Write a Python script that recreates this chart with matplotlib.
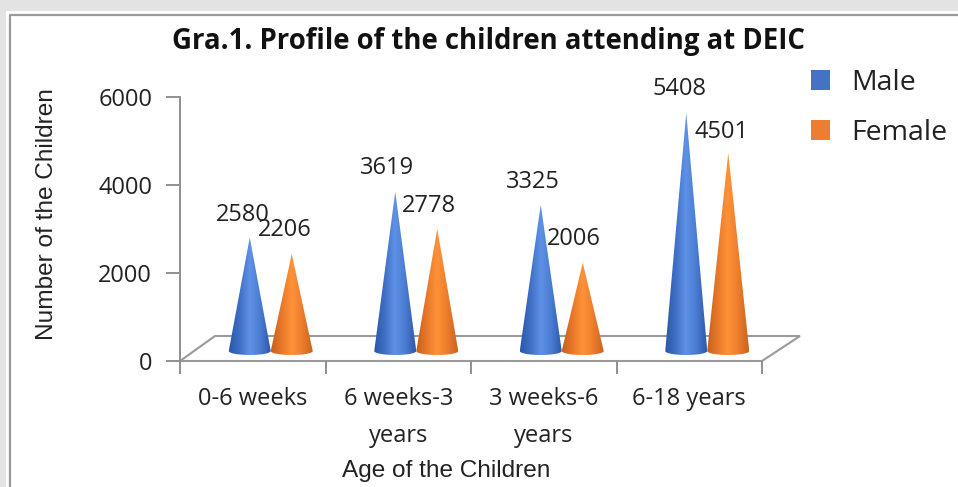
import numpy as np
import matplotlib
matplotlib.use("Agg")
import matplotlib.pyplot as plt
import matplotlib.transforms as mtrans
from matplotlib.patches import Polygon, Patch, Rectangle
from matplotlib.lines import Line2D
from matplotlib.colors import LinearSegmentedColormap

categories = ["0-6 weeks", "6 weeks-3\nyears", "3 weeks-6\nyears", "6-18 years"]
male = [2580, 3619, 3325, 5408]
female = [2206, 2778, 2006, 4501]
male_label_offsets = [(-7, 22), (-8, 24), (-8, 23), (-7, 24)]
female_label_offsets = [(-7, 24), (-8, 23), (-9, 24), (-7, 21)]
yticks = [0, 2000, 4000, 6000]

W, H = 958, 487
fig = plt.figure(figsize=(W / 100, H / 100), dpi=100, facecolor="#e3e3e3")

def fx(px): return px / W
def fy(py): return 1 - py / H

# panel + border
fig.add_artist(Rectangle((fx(6), 0), 1, fy(11), transform=fig.transFigure, fc="white", ec="none", zorder=-2))
fig.add_artist(Line2D([fx(10), fx(10), 1], [0, fy(15), fy(15)], transform=fig.transFigure,
                      color="#9a9a9a", lw=1.6, zorder=-1))

ax = fig.add_axes([fx(180), fy(361), (762 - 180) / W, (361 - 97) / H])
ax.patch.set_alpha(0)
ax.set_xlim(0, 4)
ax.set_ylim(0, 6000)
for s in ["top", "right", "bottom"]:
    ax.spines[s].set_visible(False)
ax.spines["left"].set_color("#8f8f8f")
ax.spines["left"].set_linewidth(1.4)

GREY = "#9a9a9a"
TF = "Open Sans"
LF = "Liberation Sans"

ax.set_yticks(yticks)
ax.set_yticklabels([str(v) for v in yticks], fontfamily=TF, fontsize=17, color="#222222")
ax.tick_params(axis="y", length=10, width=1.4, color="#8f8f8f", pad=10)

ax.set_xticks([0, 1, 2, 3, 4])
ax.set_xticklabels([])
ax.tick_params(axis="x", length=9, width=1.4, color="#8f8f8f")
ax.set_xticks([i + 0.5 for i in range(4)], minor=True)
ax.set_xticklabels(categories, minor=True, fontfamily=TF, fontsize=17, color="#222222",
                   linespacing=1.68)
ax.tick_params(axis="x", which="minor", length=0, pad=19)

# floor
px_x = 4 / (762 - 180)
px_y = 6000 / (361 - 97)
floor_x = [0, 35 * px_x, 4 + 38 * px_x, 4]
floor_y = [0, 25 * px_y, 25 * px_y, 0]
ax.add_patch(Polygon(np.column_stack([floor_x, floor_y]), closed=True, fc="none", ec=GREY,
                     lw=1.5, clip_on=False, zorder=1))

# cones
shift = mtrans.offset_copy(ax.transData, fig=fig, x=18, y=10, units="dots")
blue = LinearSegmentedColormap.from_list("b", ["#2a57a8", "#3e6fc4", "#5f92e6", "#4a7bd0", "#2c59aa"])
orange = LinearSegmentedColormap.from_list("o", ["#c45f1a", "#e8782a", "#ff9238", "#ec7c2c", "#c9641c"])
half = 21 * px_x
minor = 4 * px_y
grad = np.linspace(0, 1, 256).reshape(1, -1)
t = np.linspace(np.pi, 2 * np.pi, 40)

def cone(cx, v, cmap):
    xs = np.r_[cx + half * np.cos(t), cx]
    ys = np.r_[minor * np.sin(t), v]
    im = ax.imshow(grad, cmap=cmap, aspect="auto", extent=(cx - half, cx + half, -minor, v),
                   transform=shift, zorder=3, interpolation="bilinear")
    clip = Polygon(np.column_stack([xs, ys]), closed=True, transform=shift)
    im.set_clip_path(clip)

for i in range(4):
    c = i + 0.5
    cone(c - half, male[i], blue)
    cone(c + half, female[i], orange)
    for cx, v, off in [(c - half, male[i], male_label_offsets[i]),
                       (c + half, female[i], female_label_offsets[i])]:
        ax.annotate(str(v), xy=(cx, v), xycoords=shift, xytext=off, textcoords="offset pixels",
                    ha="center", va="center", fontfamily=TF, fontsize=17, color="#222222",
                    zorder=5, annotation_clip=False)
ax.set_xlim(0, 4)
ax.set_ylim(0, 6000)

fig.text(fx(489), fy(41), "Gra.1. Profile of the children attending at DEIC", ha="center", va="center",
         fontfamily=TF, fontweight="bold", fontsize=19.8, color="#111111")
fig.text(fx(446), fy(471), "Age of the Children", ha="center", va="center", fontfamily=LF,
         fontsize=17.6, color="#222222")
fig.text(fx(47), fy(214), "Number of the Children", rotation=90, ha="center", va="center",
         fontfamily=LF, fontsize=17.6, color="#222222")

handles = [Patch(fc="#4472c4", label="Male"), Patch(fc="#ed7d31", label="Female")]
fig.legend(handles=handles, loc="upper left", bbox_to_anchor=(fx(788), fy(46)), frameon=False,
           prop={"family": TF, "size": 20.5}, handlelength=0.69, handleheight=0.69,
           handletextpad=0.72, labelspacing=0.78, borderpad=0.3, labelcolor="#222222")

fig.savefig("out.png", dpi=100, facecolor=fig.get_facecolor())
